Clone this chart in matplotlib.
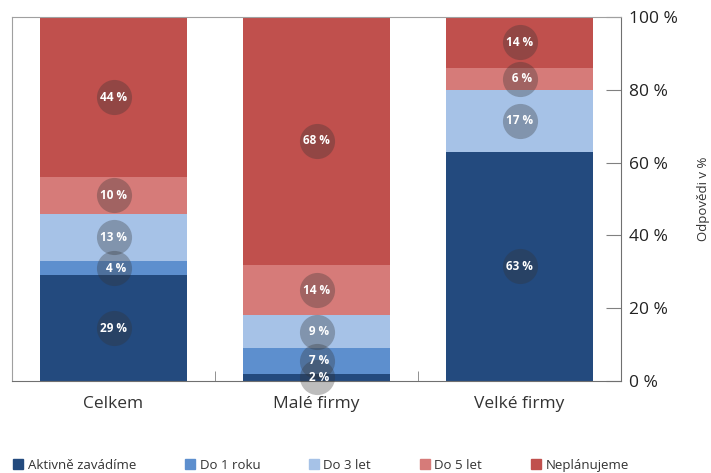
import matplotlib.pyplot as plt
from matplotlib.patches import Patch

plt.rcParams['font.family'] = ['Open Sans', 'DejaVu Sans']

# Survey answers in percent per group
categories = ['Celkem', 'Malé firmy', 'Velké firmy']
series_names = ['Aktivně zavádíme', 'Do 1 roku', 'Do 3 let', 'Do 5 let', 'Neplánujeme']
aktivne = [29, 2, 63]
do_1_roku = [4, 7, 0]
do_3_let = [13, 9, 17]
do_5_let = [10, 14, 6]
neplanujeme = [44, 68, 14]
yticks = [0, 20, 40, 60, 80, 100]

series = [aktivne, do_1_roku, do_3_let, do_5_let, neplanujeme]
colors = ['#234a7e', '#5d8fce', '#a6c2e7', '#d67b79', '#c0504d']

fig = plt.figure(figsize=(7.11, 4.73), dpi=100)
ax = fig.add_axes([12 / 711, 1 - 381 / 473, (621 - 12) / 711, (381 - 17) / 473])

x = range(len(categories))
bottom = [0] * len(categories)
for vals, col in zip(series, colors):
    ax.bar(x, vals, bottom=bottom, width=0.72, color=col, zorder=2)
    for i, v in enumerate(vals):
        if v == 0:
            continue
        yc = bottom[i] + v / 2
        ax.scatter(i, yc, s=640, color='#333333', alpha=0.32, linewidths=0,
                   zorder=3, clip_on=False)
        label = f'{v} %' if v >= 10 else f'\u2002{v} %'
        ax.text(i, yc, label, ha='center', va='center', color='white',
                fontsize=8.5, fontweight='bold', zorder=4)
    bottom = [b + v for b, v in zip(bottom, vals)]

ax.set_xlim(-0.5, 2.5)
ax.set_ylim(0, 100)

# frame
for side in ['top', 'left']:
    ax.spines[side].set_color('#a0a0a0')
for side in ['bottom', 'right']:
    ax.spines[side].set_color('#707070')

# right-hand percentage axis
ax.yaxis.tick_right()
ax.set_yticks(yticks)
ax.set_yticklabels([f'{t} %' for t in yticks], fontsize=12.5, color='#222222')
ax.tick_params(axis='y', direction='in', length=11, color='#808080', pad=6)

# category labels and separator ticks
ax.set_xticks(list(x))
ax.set_xticklabels(categories, fontsize=12.5, color='#333333')
ax.tick_params(axis='x', length=0, pad=11)
ax.set_xticks([0.5, 1.5], minor=True)
ax.tick_params(axis='x', which='minor', direction='in', length=7, color='#808080')

fig.text(703 / 711, 1 - 199 / 473, 'Odpovědi v %', rotation=90, ha='center',
         va='center', fontsize=9.5, color='#333333')

handles = [Patch(color=c, label=n) for c, n in zip(colors, series_names)]
fig.legend(handles=handles, loc='center left', bbox_to_anchor=(0.002, 1 - 465 / 473),
           ncol=5, frameon=False, fontsize=9.5, handlelength=0.75, handleheight=0.75,
           handletextpad=0.35, columnspacing=3.7, labelcolor='#333333')

fig.savefig('out.png', dpi=100)
